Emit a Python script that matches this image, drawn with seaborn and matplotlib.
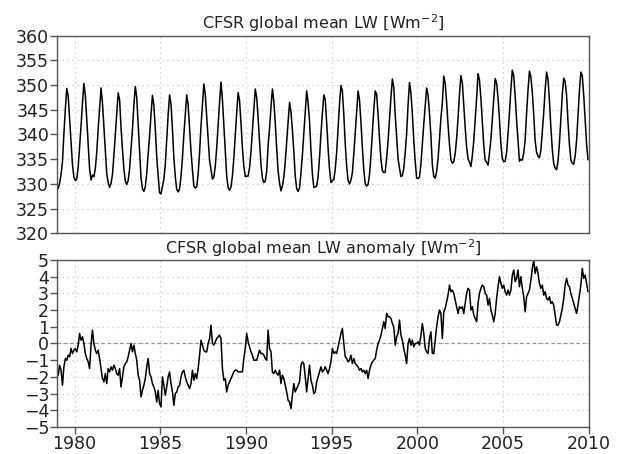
import numpy as np
import matplotlib
matplotlib.use("Agg")
import matplotlib.pyplot as plt
import seaborn as sns

sns.set_theme(style="white")
plt.rcParams['font.family'] = ['DejaVu Sans']

# CFSR global mean LW, monthly, Jan 1979 - Dec 2009 (W m-2)
lw_1979_1988 = [
    329.1, 330.2, 331.9, 334.5, 340.1, 345.1, 349.3, 347.8, 343.2, 338.7, 333.9, 331.4,
    330.7, 331.0, 333.4, 337.6, 341.7, 346.4, 350.3, 347.9, 343.1, 337.9, 333.0, 330.8,
    331.8, 331.5, 333.1, 336.4, 341.1, 345.1, 349.4, 346.4, 341.7, 337.2, 332.1, 330.3,
    329.3, 330.1, 331.9, 335.7, 340.0, 344.2, 348.4, 347.0, 341.4, 337.0, 333.1, 330.6,
    329.9, 330.7, 333.1, 337.0, 341.0, 345.9, 349.7, 347.5, 342.1, 336.8, 331.3, 329.0,
    328.5, 329.4, 332.1, 336.1, 339.7, 344.0, 347.9, 345.9, 341.1, 335.5, 331.7, 328.2,
    328.0, 329.5, 331.0, 333.9, 338.9, 344.0, 348.0, 346.1, 341.1, 335.3, 331.5, 328.9,
    328.4, 329.0, 331.5, 335.3, 339.9, 344.0, 348.0, 346.0, 341.3, 336.6, 332.9, 329.6,
    329.2, 329.4, 332.0, 336.3, 341.7, 345.9, 350.2, 348.0, 343.5, 339.0, 334.8, 332.9,
    331.0, 331.4, 333.6, 337.3, 341.9, 346.5, 350.6, 347.0, 341.8, 336.9, 331.6, 329.3,
]
lw_1989_1998 = [
    328.7, 329.4, 331.6, 335.3, 339.9, 344.4, 348.5, 346.8, 342.3, 337.3, 333.6, 331.5,
    331.6, 331.6, 333.3, 336.5, 340.8, 345.0, 349.2, 347.5, 343.3, 338.6, 333.9, 331.2,
    330.3, 330.6, 332.5, 337.8, 341.2, 345.5, 349.2, 346.7, 342.4, 337.2, 332.6, 330.2,
    328.6, 329.6, 331.4, 334.5, 338.6, 342.6, 346.5, 344.6, 340.9, 336.6, 331.6, 329.1,
    328.5, 329.2, 332.2, 335.9, 340.3, 344.5, 348.8, 346.4, 342.7, 336.8, 332.0, 329.3,
    329.4, 329.6, 331.5, 335.3, 340.1, 344.3, 348.0, 347.1, 342.4, 337.2, 333.0, 330.3,
    330.7, 330.9, 333.0, 336.4, 341.3, 346.2, 349.9, 348.8, 344.0, 338.2, 333.6, 330.7,
    330.0, 330.8, 332.3, 336.1, 340.3, 344.7, 348.8, 346.9, 342.5, 337.3, 332.9, 330.0,
    329.6, 329.9, 331.9, 335.7, 340.4, 345.0, 348.8, 348.1, 344.0, 339.2, 335.0, 332.7,
    332.3, 332.4, 335.3, 338.6, 343.1, 347.5, 351.2, 349.5, 343.9, 339.4, 335.1, 333.2,
]
lw_1999_2009 = [
    331.5, 331.7, 333.2, 336.3, 340.3, 346.0, 350.5, 348.4, 344.2, 338.8, 334.5, 331.2,
    331.1, 331.4, 334.0, 338.2, 342.1, 345.7, 349.4, 347.9, 344.3, 339.7, 333.9, 331.5,
    331.2, 332.5, 335.1, 339.0, 343.3, 346.3, 351.8, 350.3, 346.5, 341.9, 338.0, 334.9,
    334.2, 334.5, 336.1, 339.2, 343.3, 348.2, 351.9, 350.4, 345.8, 341.4, 337.5, 335.1,
    334.4, 333.5, 335.7, 338.7, 343.0, 347.3, 352.3, 351.0, 347.3, 342.5, 337.9, 334.8,
    334.4, 333.8, 336.2, 339.0, 343.2, 347.3, 351.3, 350.4, 347.4, 343.0, 338.1, 335.1,
    334.5, 334.6, 336.4, 340.2, 344.4, 349.2, 353.0, 351.8, 347.7, 342.9, 338.9, 334.6,
    335.0, 334.8, 336.3, 338.9, 344.3, 349.0, 352.8, 351.6, 348.5, 344.0, 338.7, 336.4,
    335.6, 335.3, 336.8, 340.5, 344.4, 349.1, 352.6, 351.1, 346.8, 341.4, 337.0, 334.1,
    333.2, 332.9, 334.6, 338.3, 343.2, 348.1, 351.4, 350.6, 347.9, 342.5, 337.9, 334.8,
    334.2, 334.0, 335.6, 338.8, 343.8, 348.9, 352.6, 351.9, 347.9, 343.1, 338.1, 334.9,
]

# anomaly (W m-2), same months
anom_1979_1988 = [
    -1.9, -1.3, -1.6, -2.5, -1.4, -0.9, -1.0, -0.7, -0.8, -0.3, -0.6, -0.4,
    -0.3, -0.5, -0.1, 0.6, 0.2, 0.4, 0.0, -0.6, -0.9, -1.1, -1.5, -0.1,
    0.8, 0.0, -0.4, -0.6, -0.4, -0.9, -1.5, -2.1, -2.3, -1.8, -2.4, -1.5,
    -1.7, -1.4, -1.6, -1.3, -1.5, -1.8, -1.9, -1.5, -2.6, -2.0, -1.4, -1.2,
    -1.1, -0.8, -0.4, 0.0, -0.5, -0.1, -0.6, -1.0, -1.9, -2.2, -3.2, -2.8,
    -2.5, -2.1, -1.4, -0.9, -1.8, -2.0, -2.4, -2.6, -2.9, -3.5, -2.8, -3.6,
    -3.8, -2.0, -2.5, -3.1, -2.6, -2.0, -1.7, -2.4, -2.9, -3.7, -3.0, -2.9,
    -2.6, -2.5, -2.0, -1.7, -1.6, -2.0, -2.3, -2.5, -2.7, -2.4, -1.6, -2.2,
    -1.8, -2.1, -1.5, -0.7, 0.2, -0.1, -0.4, -0.5, -0.5, 0.0, 0.3, 1.1,
    0.0, -0.1, 0.1, 0.3, 0.4, 0.5, 0.3, -1.5, -2.2, -2.1, -2.9, -2.5,
]
anom_1989_1998 = [
    -2.3, -2.1, -1.9, -1.7, -1.6, -1.6, -1.7, -1.7, -1.7, -1.7, -0.9, -0.3,
    0.6, 0.1, -0.2, -0.5, -0.7, -1.0, -1.0, -1.0, -0.7, -0.4, -0.6, -0.6,
    -0.7, -0.9, -1.0, 0.8, -0.3, -0.5, -1.7, -1.8, -1.6, -1.8, -1.9, -1.6,
    -2.4, -1.9, -2.1, -2.5, -2.9, -3.4, -3.5, -3.9, -3.1, -2.4, -2.9, -2.7,
    -2.5, -2.3, -1.3, -1.1, -1.2, -2.0, -2.9, -2.1, -1.3, -2.2, -2.5, -3.0,
    -2.9, -2.3, -2.0, -1.7, -1.4, -1.7, -1.6, -1.4, -1.6, -1.8, -1.5, -1.1,
    -0.3, -0.6, -0.5, -0.6, -0.2, 0.2, 0.6, 0.9, 0.0, -0.8, -0.9, -1.1,
    -1.0, -0.7, -1.2, -0.9, -1.2, -1.3, -1.4, -1.6, -1.5, -1.7, -1.6, -1.8,
    -1.6, -2.1, -1.6, -1.3, -1.1, -1.0, -0.9, -0.4, 0.0, 0.2, 0.5, 0.9,
    1.3, 0.9, 1.8, 1.6, 1.6, 1.5, 1.2, 1.0, -0.1, 0.4, 0.6, 1.4,
]
anom_1999_2009 = [
    0.5, 0.2, -0.3, -0.7, -1.2, 0.0, 0.3, -0.1, 0.2, -0.2, 0.0, 0.0,
    0.1, -0.1, 0.5, 1.2, 0.6, -0.3, -0.5, -0.6, 0.3, 0.7, -0.6, -0.6,
    0.2, 1.0, 1.6, 2.0, 1.8, 0.3, 1.9, 2.1, 2.5, 2.9, 3.5, 3.1,
    3.2, 3.0, 2.6, 2.2, 1.8, 2.2, 2.1, 2.2, 1.8, 2.4, 3.0, 3.3,
    3.2, 2.0, 2.2, 1.7, 1.5, 1.3, 2.4, 3.0, 3.3, 3.5, 3.4, 3.0,
    2.9, 2.3, 2.7, 2.0, 1.7, 1.3, 1.8, 2.7, 3.4, 4.0, 3.6, 3.3,
    3.5, 3.1, 2.9, 3.2, 2.9, 3.2, 4.1, 4.4, 3.7, 3.9, 4.4, 3.4,
    4.0, 3.3, 2.8, 1.9, 2.8, 3.0, 3.2, 3.8, 4.5, 5.0, 4.2, 4.6,
    4.2, 3.6, 3.3, 3.5, 2.9, 3.1, 2.7, 2.6, 2.8, 2.4, 2.5, 2.3,
    1.7, 1.1, 1.1, 1.3, 1.7, 2.1, 2.7, 3.5, 3.9, 3.5, 3.4, 3.0,
    2.7, 2.4, 2.1, 1.8, 2.3, 2.9, 3.5, 4.5, 3.9, 4.1, 3.6, 3.1,
]

year_ticks = [1980, 1985, 1990, 1995, 2000, 2005, 2010]
lw_ticks = [320, 325, 330, 335, 340, 345, 350, 355, 360]
anom_ticks = [-5, -4, -3, -2, -1, 0, 1, 2, 3, 4, 5]

lw = np.array(lw_1979_1988 + lw_1989_1998 + lw_1999_2009)
anom = np.array(anom_1979_1988 + anom_1989_1998 + anom_1999_2009)
t = 1979 + (np.arange(len(lw)) + 0.5) / 12.0

FRAME = '#555555'
GRID = '#c8c8c8'

fig = plt.figure(figsize=(6.22, 4.54), dpi=100)
ax1 = fig.add_axes([0.0924, 0.4857, 0.8541, 0.4361])
ax2 = fig.add_axes([0.0924, 0.0595, 0.8541, 0.3678])


def style_axis(ax, yticks):
    ax.set_xlim(1979, 2010)
    ax.set_ylim(yticks[0], yticks[-1])
    ax.set_yticks(yticks)
    ax.set_xticks(year_ticks)
    ax.grid(True, linestyle=(0, (1, 3)), color=GRID, linewidth=0.9)
    for s in ax.spines.values():
        s.set_color(FRAME)
        s.set_linewidth(1.0)
    ax.tick_params(axis='both', direction='out', length=5, width=1, color=FRAME,
                   labelsize=12.5, labelcolor='#222222', pad=1, left=True, bottom=True)
    ax.set_xlabel('')
    ax.set_ylabel('')


sns.lineplot(x=t, y=lw, ax=ax1, color='black', linewidth=1.1)
style_axis(ax1, lw_ticks)
ax1.tick_params(axis='x', bottom=False, labelbottom=False)
ax1.set_title('CFSR global mean LW [Wm$^{-2}$]', fontsize=11.5, color='#222222', pad=5)

sns.lineplot(x=t, y=anom, ax=ax2, color='black', linewidth=1.1)
style_axis(ax2, anom_ticks)
ax2.axhline(0, color='#999999', linestyle=(0, (3, 2)), linewidth=0.9, zorder=1)
ax2.set_title('CFSR global mean LW anomaly [Wm$^{-2}$]', fontsize=11.5, color='#222222', pad=4)

fig.savefig('out.png', dpi=100)
